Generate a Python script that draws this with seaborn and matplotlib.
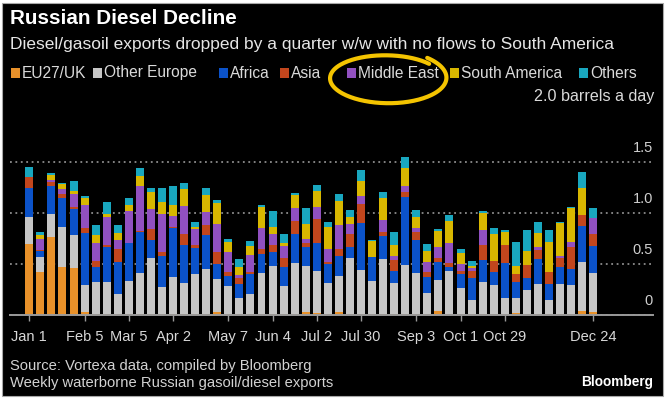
import numpy as np
import pandas as pd
import matplotlib
matplotlib.use("Agg")
import matplotlib.pyplot as plt
from matplotlib.lines import Line2D
from matplotlib.patches import Rectangle
import seaborn as sns

# ---- data (million barrels a day, weekly) ----
regions = ["EU27/UK", "Other Europe", "Africa", "Asia", "Middle East", "South America", "Others"]
colors = ["#e8912a", "#c6c6c6", "#0b52c9", "#c2461d", "#9150c0", "#d8b700", "#19a7bf"]

eu_uk = [.70, .42, .76, .47, .46, .03, .01, .01, .01, .01, .01, .01, .01, .01, .01, .01, .01, .03,
         .01, .01, .01, .01, .01, .01, .01, .03, .02, .01, .03, .01, .01, .01, .01, .01, .01, .01,
         .01, .04, .01, .01, .01, .01, .01, .01, .02, .01, .01, .01, .01, .01, .04, .03]
other_europe = [.26, .15, .23, .39, .32, .26, .31, .31, .20, .32, .40, .55, .26, .36, .30, .39, .44, .32,
                .27, .16, .20, .40, .47, .27, .50, .45, .41, .30, .35, .55, .43, .32, .54, .30, .48, .40,
                .21, .30, .42, .25, .14, .31, .28, .16, .15, .24, .29, .14, .29, .28, .48, .38]
africa = [.29, .06, .27, .29, .26, .51, .15, .35, .31, .38, .40, .18, .31, .48, .38, .26, .33, .15,
          .10, .13, .19, .19, .14, .19, .28, .19, .28, .19, .20, .11, .46, .24, .22, .12, .67, .33,
          .15, .18, .04, .14, .21, .22, .13, .34, .15, .11, .25, .15, .17, .16, .35, .27]
asia = [.10, .01, .04, .04, .02, .05, .06, .02, .13, .00, .01, .10, .04, .01, .10, .03, .10, .12,
        .04, .06, .02, .05, .07, .09, .13, .04, .23, .02, .07, .12, .19, .00, .04, .11, .05, .07,
        .05, .04, .04, .03, .07, .15, .11, .18, .08, .13, .09, .12, .09, .22, .11, .11]
middle_east = [.00, .11, .02, .05, .13, .23, .18, .27, .09, .31, .44, .20, .37, .11, .28, .15, .13, .27,
               .20, .03, .17, .20, .10, .12, .13, .04, .12, .13, .23, .10, .08, .00, .12, .04, .05, .04,
               .10, .11, .20, .07, .03, .14, .00, .00, .00, .00, .03, .00, .02, .05, .00, .16]
south_america = [.00, .03, .05, .04, .03, .07, .07, .03, .06, .06, .10, .17, .12, .11, .17, .02, .17, .21,
                 .10, .08, .09, .21, .07, .03, .13, .14, .16, .21, .24, .07, .14, .16, .22, .11, .18, .11,
                 .11, .15, .21, .11, .02, .17, .26, .12, .08, .14, .13, .30, .32, .33, .27, .00]
others = [.10, .03, .02, .01, .09, .02, .10, .12, .08, .07, .08, .04, .14, .18, .05, .05, .07, .03,
          .03, .08, .05, .02, .16, .08, .02, .16, .05, .05, .07, .07, .11, .01, .06, .12, .11, .07,
          .07, .02, .06, .04, .05, .02, .06, .02, .24, .20, .11, .11, .01, .01, .15, .10]

series = [eu_uk, other_europe, africa, asia, middle_east, south_america, others]
week_starts = pd.date_range("2023-01-01", periods=len(eu_uk), freq="7D")
tick_labels = ["Jan 1", "Feb 5", "Mar 5", "Apr 2", "May 7", "Jun 4", "Jul 2", "Jul 30",
               "Sep 3", "Oct 1", "Oct 29", "Dec 24"]
y_ticks = [0, 0.5, 1.0, 1.5]
y_tick_labels = ["0", "0.5", "1.0", "1.5"]

title = "Russian Diesel Decline"
subtitle = "Diesel/gasoil exports dropped by a quarter w/w with no flows to South America"
unit_note = "2.0 barrels a day"
source_lines = ["Source: Vortexa data, compiled by Bloomberg",
                "Weekly waterborne Russian gasoil/diesel exports"]
brand = "Bloomberg"

# ---- long-form table ----
week_idx = np.arange(len(eu_uk))
df = pd.DataFrame({
    "week": np.tile(week_idx, len(regions)),
    "region": np.repeat(regions, len(eu_uk)),
    "value": np.concatenate(series),
})
tick_pos = [int(np.where(week_starts == pd.to_datetime(t + " 2023", format="%b %d %Y"))[0][0])
            for t in tick_labels]

# ---- style ----
W, H = 665, 398
sns.set_theme(style="dark")
plt.rcParams["font.family"] = ["Liberation Sans", "DejaVu Sans"]

fig = plt.figure(figsize=(W / 100, H / 100), dpi=100, facecolor="white")
renderer = fig.canvas.get_renderer()


def fxy(x, y):
    return x / W, 1 - y / H


def fit_width(txt, width_px):
    """Scale a text's font size so that it spans the given pixel width."""
    w = txt.get_window_extent(renderer).width
    txt.set_fontsize(txt.get_fontsize() * width_px / w)
    return txt


fig.add_artist(Rectangle(fxy(2, 396), 661 / W, 393 / H, transform=fig.transFigure,
                         facecolor="black", edgecolor="#a8a8a8", lw=0.8, zorder=-10))

ax_l, ax_r, ax_b, ax_t = 10, 653, 315, 140
ax = fig.add_axes([ax_l / W, 1 - ax_b / H, (ax_r - ax_l) / W, (ax_b - ax_t) / H])
ax.set_facecolor("none")

palette = dict(zip(regions, colors))
sns.histplot(data=df, x="week", hue="region", weights="value", multiple="stack",
             discrete=True, shrink=0.72, hue_order=regions[::-1], palette=palette,
             linewidth=0, alpha=1, legend=False, ax=ax)

px_per_week = 11.057
ax.set_xlim(-(29.3 - ax_l) / px_per_week, (ax_r - 29.3) / px_per_week)
ax.set_ylim(0, (ax_b - ax_t) / 102)
ax.set_xlabel("")
ax.set_ylabel("")

for s in ["top", "left", "right"]:
    ax.spines[s].set_visible(False)
ax.spines["bottom"].set_color("#9a9a9a")
ax.spines["bottom"].set_linewidth(1.4)

ax.set_yticks(y_ticks)
ax.set_yticklabels([])
ax.tick_params(axis="y", length=0)
ax.grid(axis="y", color="#8c8c8c", linestyle=(0, (1, 2)), linewidth=1.3)
ax.grid(axis="x", visible=False)
ax.set_axisbelow(True)
for v, lbl in zip(y_ticks, y_tick_labels):
    ax.annotate(lbl, xy=(1.0, v), xycoords=ax.get_yaxis_transform(),
                xytext=(0, 14), textcoords="offset pixels", ha="right", va="center",
                color="#cfcfcf", fontsize=10.5)

ax.set_xticks(tick_pos, tick_labels)
ax.tick_params(axis="x", length=4.5, width=1, color="#9a9a9a", labelcolor="#d8d8d8",
               labelsize=10.5, pad=6.5, bottom=True)

# ---- header ----
t_title = fig.text(*fxy(10, 19), title, color="white", fontsize=13, fontweight="bold",
                   ha="left", va="center")
fit_width(t_title, 225)
t_sub = fig.text(*fxy(10, 45), subtitle, color="#e6e6e6", fontsize=11, ha="left", va="center")
fit_width(t_sub, 600)

legend_x = [10.6, 92.6, 218.7, 280, 347, 450, 579]
sq = 9
legend_texts = []
for x0, name, col in zip(legend_x, regions, colors):
    fig.add_artist(Rectangle(fxy(x0, 73 + sq / 2), sq / W, sq / H, transform=fig.transFigure,
                             facecolor=col, edgecolor="none"))
    legend_texts.append(fig.text(*fxy(x0 + 11, 73), name, color="#dadada", fontsize=10.5,
                                 ha="left", va="center"))
ref = legend_texts[regions.index("South America")]
fit_width(ref, 102)
for lt in legend_texts:
    lt.set_fontsize(ref.get_fontsize())

t_unit = fig.text(*fxy(654, 96), unit_note, color="#dadada", fontsize=10.5,
                  ha="right", va="center")
fit_width(t_unit, 121)

# hand-drawn highlight loop
t = np.linspace(np.deg2rad(40), np.deg2rad(40 + 368), 200)
grow = (t - t[0]) / (2 * np.pi)
cx = 387 + (55 + 5 * grow) * np.cos(t)
cy = 78 - (22 + 5 * grow) * np.sin(t)
fig.add_artist(Line2D(cx / W, 1 - cy / H, transform=fig.transFigure, color="#f4c400",
                      lw=3, solid_capstyle="round"))

# ---- footer ----
t_src = fig.text(*fxy(10, 366), source_lines[0], color="#d2d2d2", fontsize=10,
                 ha="left", va="center")
fit_width(t_src, 300)
t_wk = fig.text(*fxy(10, 383), source_lines[1], color="#d2d2d2", fontsize=t_src.get_fontsize(),
                ha="left", va="center")
t_brand = fig.text(*fxy(653, 382), brand, color="white", fontsize=10, fontweight="bold",
                   ha="right", va="center")
fit_width(t_brand, 72)

fig.savefig("out.png", dpi=100, facecolor=fig.get_facecolor())
